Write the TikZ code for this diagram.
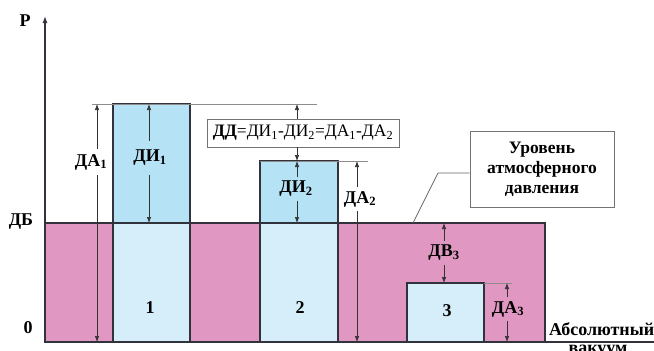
\documentclass[tikz,border=0pt]{standalone}
\usepackage{fontspec}
\setmainfont{Liberation Serif}
\usetikzlibrary{arrows.meta}
\definecolor{pinkfill}{RGB}{224,152,194}
\definecolor{bluedark}{RGB}{182,226,246}
\definecolor{bluelight}{RGB}{214,238,250}
\definecolor{edgecol}{RGB}{50,50,60}
\begin{document}
\begin{tikzpicture}[x=1pt,y=-1pt,
  lbl/.style={font=\bfseries\fontsize{18}{20}\selectfont, inner sep=0pt, minimum height=24pt},
  num/.style={font=\bfseries\fontsize{18}{20}\selectfont, inner sep=1pt},
  dim/.style={draw=black!80, line width=0.7pt, -{Latex[length=6pt,width=4.5pt]}},
  ext/.style={draw=black!45, line width=0.8pt},
  bar/.style={draw=edgecol, line width=1.3pt},
  callout/.style={draw=black!55, line width=0.9pt, fill=white, align=center,
    font=\bfseries\fontsize{17.5}{20}\selectfont, inner sep=0pt,
    minimum width=144pt, minimum height=76pt},
  formula/.style={draw=black!55, line width=0.9pt, fill=white,
    font=\fontsize{17.5}{19}\selectfont, inner sep=0pt,
    minimum width=192pt, minimum height=28pt}
]
\useasboundingbox (0,0) rectangle (654,351);

% pink region
\fill[pinkfill] (45,223) rectangle (545,342);
\draw[bar] (45,223) rectangle (545,342);

% column 1
\fill[bluedark] (113,104) rectangle (190,223);
\fill[bluelight] (113,223) rectangle (190,342);
\draw[bar] (113,104) rectangle (190,342);
\draw[bar] (113,223) -- (190,223);
% column 2
\fill[bluedark] (260,161) rectangle (338,223);
\fill[bluelight] (260,223) rectangle (338,342);
\draw[bar] (260,161) rectangle (338,342);
\draw[bar] (260,223) -- (338,223);
% column 3
\fill[bluelight] (407,283) rectangle (484,342);
\draw[bar] (407,283) rectangle (484,342);

% axes
\coordinate (origin) at (45,342);
\coordinate (ptop) at (45,16);
\coordinate (xend) at (654,342);
\draw[edgecol, line width=1.3pt, -{Latex[length=7pt,width=5pt]}] (origin) -- (ptop);
\draw[edgecol, line width=1.3pt] (origin) -- (xend);

% extension lines
\coordinate (e1a) at (92,104);  \coordinate (e1b) at (317,104);
\coordinate (e2a) at (260,161); \coordinate (e2b) at (368,161);
\coordinate (e3a) at (484,283); \coordinate (e3b) at (512,283);
\draw[ext] (e1a) -- (e1b);
\draw[ext] (e2a) -- (e2b);
\draw[ext] (e3a) -- (e3b);

% axis labels
\node[num] (P) at (25,21) {P};
\node[num] (DB) at (21,222) {ДБ};
\node[num] (zero) at (28,328) {0};
\node[num] (n1) at (150,308) {1};
\node[num] (n2) at (300,308) {2};
\node[num] (n3) at (447,311) {3};

% ДА1
\coordinate (da1t) at (97,104); \coordinate (da1b) at (97,342);
\node[lbl, minimum height=26pt] (da1) at (91,162) {ДА\textsubscript{1}};
\draw[dim] (da1t |- da1.north) -- (da1t);
\draw[dim] (da1b |- da1.south) -- (da1b);

% ДИ1
\coordinate (di1t) at (149,104); \coordinate (di1b) at (149,223);
\node[lbl, minimum height=34pt] (di1) at (150,158) {ДИ\textsubscript{1}};
\draw[dim] (di1t |- di1.north) -- (di1t);
\draw[dim] (di1b |- di1.south) -- (di1b);

% ДД
\coordinate (ddt) at (297,104); \coordinate (ddb) at (297,161);
\node[formula] (dd) at (303,133) {\textbf{ДД}=ДИ\textsubscript{1}-ДИ\textsubscript{2}=ДА\textsubscript{1}-ДА\textsubscript{2}};
\draw[dim] (ddt |- dd.north) -- (ddt);
\draw[dim] (ddb |- dd.south) -- (ddb);

% ДИ2
\coordinate (di2t) at (297,161); \coordinate (di2b) at (297,223);
\node[lbl] (di2) at (296,189) {ДИ\textsubscript{2}};
\draw[dim] (di2t |- di2.north) -- (di2t);
\draw[dim] (di2b |- di2.south) -- (di2b);

% ДА2
\coordinate (da2t) at (357,161); \coordinate (da2b) at (357,342);
\node[lbl] (da2) at (360,199) {ДА\textsubscript{2}};
\draw[dim] (da2t |- da2.north) -- (da2t);
\draw[dim] (da2b |- da2.south) -- (da2b);

% ДВ3
\coordinate (dv3t) at (444,223); \coordinate (dv3b) at (444,283);
\node[lbl] (dv3) at (444,253) {ДВ\textsubscript{3}};
\draw[dim] (dv3t |- dv3.north) -- (dv3t);
\draw[dim] (dv3b |- dv3.south) -- (dv3b);

% ДА3
\coordinate (da3t) at (507,283); \coordinate (da3b) at (507,342);
\node[lbl] (da3) at (508,309) {ДА\textsubscript{3}};
\draw[dim] (da3t |- da3.north) -- (da3t);
\draw[dim] (da3b |- da3.south) -- (da3b);

% callout
\node[callout] (atm) at (542,169) {Уровень\\атмосферного\\давления};
\coordinate (bend) at (438,173);
\coordinate (atmpt) at (413,223);
\draw[draw=black!60, line width=0.8pt] (atm.west |- bend) -- (bend) -- (atmpt);

% vacuum label
\node[num, anchor=west] (vac1) at (548,329) {Абсолютный};
\node[num] (vac2) at (598,351) {вакуум};
\end{tikzpicture}
\end{document}
